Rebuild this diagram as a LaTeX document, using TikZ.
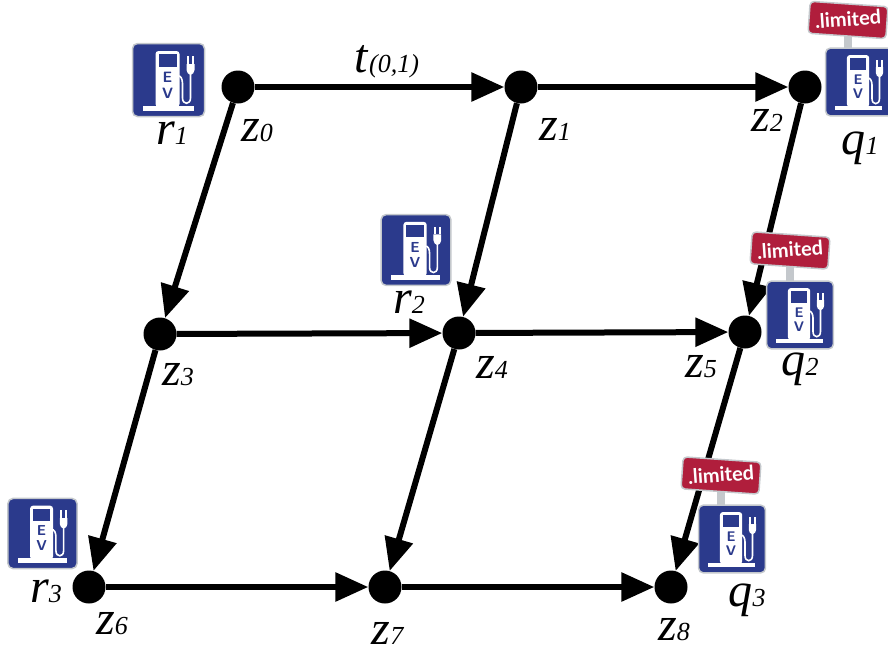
\documentclass[tikz,border=0pt]{standalone}
\usepackage{fontspec}
\setmainfont{Liberation Serif}
\newfontfamily\signfont{Lato}
\usetikzlibrary{arrows.meta}
\definecolor{evblue}{HTML}{2B3A8C}
\definecolor{signred}{HTML}{B01E3C}
\definecolor{edgegrey}{HTML}{C4C8CC}
\newcommand{\lbl}[2]{\textit{#1}{\fontsize{26}{26}\selectfont\textit{#2}}}
\tikzset{
  x=1pt,y=-1pt,
  vertex/.style={circle,fill=black,draw=none,minimum size=33pt,inner sep=0pt},
  edge/.style={line width=6pt,-{Triangle[length=33pt,width=28pt]}},
  mathlabel/.style={inner sep=0pt,font=\fontsize{48}{48}\selectfont},
  evicon/.pic={
    \draw[edgegrey,line width=1.5pt,fill=evblue,rounded corners=5pt] (-36,-36.5) rectangle (36,36.5);
    \fill[white] (-26,26) rectangle (25,30.5);
    \fill[white,rounded corners=3pt] (-13,27) -- (-13,-29) -- (11,-29) -- (11,27) -- cycle;
    \fill[evblue] (-10,-26) rectangle (8,-13);
    \node[transform shape,text=evblue,inner sep=0pt,font=\sffamily\bfseries\fontsize{15}{15}\selectfont] (-e) at (-1,-3) {E};
    \node[transform shape,text=evblue,inner sep=0pt,font=\sffamily\bfseries\fontsize{15}{15}\selectfont] (-v) at (-1,13) {V};
    \draw[white,line width=1.6pt,line cap=round] (11,-4) .. controls (14,-2) and (14,2) .. (14,6) -- (14,18) .. controls (14,25) and (22,25) .. (22,18) -- (22,-12);
    \fill[white] (18,-16) -- (26,-16) -- (26,-10) .. controls (26,-7) and (24,-6) .. (22,-5) .. controls (20,-6) and (18,-7) .. (18,-10) -- cycle;
    \fill[white] (18.5,-24) rectangle (20.5,-16);
    \fill[white] (23.5,-24) rectangle (25.5,-16);
  },
  limitsign/.pic={
    \fill[edgegrey] (-4,14) rectangle (4,32);
    \draw[edgegrey,line width=1.5pt,fill=signred,rounded corners=4pt,rotate=-4] (-39,-16) rectangle (39,16);
    \node[rotate=4,transform shape,text=white,inner sep=0pt,font=\signfont\bfseries\fontsize{20}{20}\selectfont] (-t) at (0,-1) {.limited};
  }
}
\begin{document}
\begin{tikzpicture}
\useasboundingbox (0,0) rectangle (888,654);
% vertices
\node[vertex] (z0) at (238,87) {};
\node[vertex] (z1) at (521,87) {};
\node[vertex] (z2) at (805,87) {};
\node[vertex] (z3) at (160,334) {};
\node[vertex] (z4) at (459,333) {};
\node[vertex] (z5) at (745,332) {};
\node[vertex] (z6) at (89,587) {};
\node[vertex] (z7) at (385,587) {};
\node[vertex] (z8) at (671,587) {};
% edges
\draw[edge] (z0) -- (z1);
\draw[edge] (z1) -- (z2);
\draw[edge] (z0) -- (z3);
\draw[edge] (z1) -- (z4);
\draw[edge] (z2) -- (z5);
\draw[edge] (z3) -- (z4);
\draw[edge] (z4) -- (z5);
\draw[edge] (z3) -- (z6);
\draw[edge] (z4) -- (z7);
\draw[edge] (z5) -- (z8);
\draw[edge] (z6) -- (z7);
\draw[edge] (z7) -- (z8);
% stations
\pic (r1i) at (168.5,80) {evicon};
\pic[scale=.97] (r2i) at (416,250) {evicon};
\pic[scale=.96] (r3i) at (42.5,533.5) {evicon};
\pic (q1s) at (848,20) {limitsign};
\pic (q2s) at (790,250.5) {limitsign};
\pic (q3s) at (721,475.5) {limitsign};
\pic[scale=.93] (q1i) at (859,82) {evicon};
\pic[scale=.93] (q2i) at (800,315) {evicon};
\pic[scale=.93] (q3i) at (732,539) {evicon};
% labels
\node[mathlabel] (lt) at (387,62) {\lbl{t}{(0,1)}};
\node[mathlabel] (lz0) at (257,131) {\lbl{z}{0}};
\node[mathlabel] (lz1) at (555,129) {\lbl{z}{1}};
\node[mathlabel] (lz2) at (767,120) {\lbl{z}{2}};
\node[mathlabel] (lz3) at (178,375) {\lbl{z}{3}};
\node[mathlabel] (lz4) at (492,367) {\lbl{z}{4}};
\node[mathlabel] (lz5) at (701,367) {\lbl{z}{5}};
\node[mathlabel] (lz6) at (112,624) {\lbl{z}{6}};
\node[mathlabel] (lz7) at (388,633) {\lbl{z}{7}};
\node[mathlabel] (lz8) at (674,630) {\lbl{z}{8}};
\node[mathlabel] (lr1) at (172,133) {\lbl{r}{1}};
\node[mathlabel] (lr2) at (409,302) {\lbl{r}{2}};
\node[mathlabel] (lr3) at (46,591) {\lbl{r}{3}};
\node[mathlabel] (lq1) at (860,148) {\lbl{q}{1}};
\node[mathlabel] (lq2) at (800,369) {\lbl{q}{2}};
\node[mathlabel] (lq3) at (747,600) {\lbl{q}{3}};
\end{tikzpicture}
\end{document}
